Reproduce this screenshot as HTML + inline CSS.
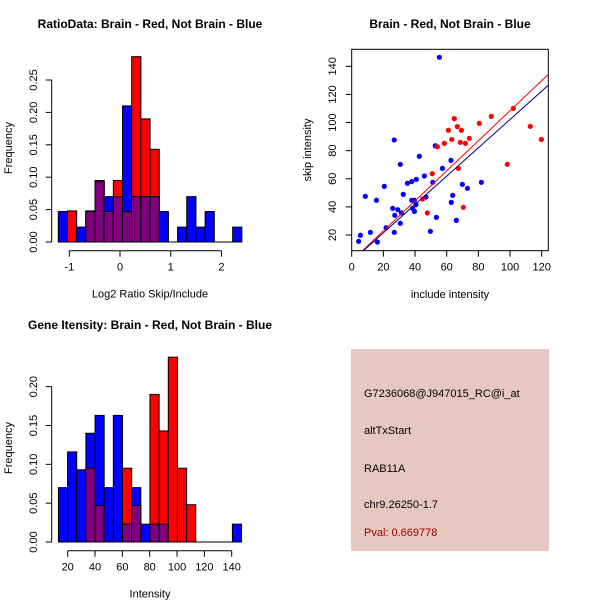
<!DOCTYPE html>
<html><head><meta charset="utf-8"><style>
body{margin:0;background:#fff}
svg{display:block;font-family:"Liberation Sans",Arial,sans-serif}
</style></head><body>
<svg id="c" width="600" height="600" viewBox="0 0 600 600">
<rect width="600" height="600" fill="#fff"/>
<text x="150" y="28" font-size="12" font-weight="bold" text-anchor="middle">RatioData: Brain - Red, Not Brain - Blue</text>
<text x="450" y="28" font-size="12" font-weight="bold" text-anchor="middle">Brain - Red, Not Brain - Blue</text>
<text x="150" y="329" font-size="12" font-weight="bold" text-anchor="middle">Gene Itensity: Brain - Red, Not Brain - Blue</text>
<g id="h1"></g>
<g id="sc"></g>
<g id="h2"></g>
<g>
<rect x="351" y="349" width="198" height="202" fill="#e6c8c1"/>
<text x="364" y="397" font-size="11">G7236068@J947015_RC@i_at</text>
<text x="364" y="434" font-size="11">altTxStart</text>
<text x="364" y="472" font-size="11">RAB11A</text>
<text x="364" y="508" font-size="11">chr9.26250-1.7</text>
<text x="364" y="536" font-size="11" fill="#a00000">Pval: 0.669778</text>
</g>
</svg>
<script>
// Ratio histogram data
const h1Start = -1.217, h1Width = 0.181;
const h1Blue = [0.047,0,0.023,0.047,0.093,0.07,0.07,0.21,0.07,0.07,0.07,0.047,0,0.023,0.07,0.023,0.047,0,0,0.023];
const h1Red  = [0,0.048,0,0.048,0.095,0.047,0.095,0.047,0.286,0.19,0.143,0,0,0,0,0,0,0,0,0];
const h1XTicks = [-1,0,1,2];
const h1YTicks = [0,0.05,0.10,0.15,0.20,0.25];
const h1YLabels = ["0.00","0.05","0.10","0.15","0.20","0.25"];
// Intensity histogram data
const h2Start = 13.2, h2Width = 6.7;
const h2Blue = [0.07,0.116,0.093,0.14,0.163,0.07,0.163,0.023,0.07,0.023,0.023,0.023,0,0,0,0,0,0,0,0.023];
const h2Red  = [0,0,0,0.095,0.047,0,0,0.095,0.047,0,0.19,0.143,0.238,0.095,0.048,0,0,0,0,0];
const h2XTicks = [20,40,60,80,100,120,140];
const h2YTicks = [0,0.05,0.10,0.15,0.20];
const h2YLabels = ["0.00","0.05","0.10","0.15","0.20"];
// Scatter data
const blueX = [4.4,5.5,8.6,11.8,15.6,16.2,20.6,21.7,25.9,26.9,26.9,27.2,29.1,30.7,30.7,31.4,32.6,35.2,37.9,37.9,38.5,39.6,39.6,40.6,40.8,42.7,45.9,46.9,51.2,49.7,52.8,53.5,55.4,57.3,62.7,62.9,63.8,66.1,69.9,73.1,81.9];
const blueY = [15.5,19.8,47.5,21.9,44.7,15,54.6,25.2,39,87.6,21.9,34,38,70.3,28.3,35.7,48.9,56.8,58,44.7,39,44.7,36.8,41.6,59.6,76,62,47,57.5,22.6,83.5,32.6,146.4,67.4,73.1,43.2,48.2,30.4,56,53.2,57.5];
const redX = [44.8,47.8,50.9,54.1,58.5,61.1,63.2,64.8,66.7,67.4,68.6,69.3,70.5,71.8,74.3,80.6,88.2,98.3,102.1,112.8,119.8];
const redY = [45.6,35.7,63.6,82.8,85.2,94.5,88,102.8,97.1,67.4,85.9,94.5,39.7,85.2,88.8,99.4,104.4,70.3,110.1,97.3,88];
const redFit = [1.5,1.069];
const blueFit = [1.4,1.008];
const scXTicks = [0,20,40,60,80,100,120];
const scYTicks = [20,40,60,80,100,120,140];

const NS="http://www.w3.org/2000/svg";
function mk(p,tag,attrs,txt){const e=document.createElementNS(NS,tag);for(const k in attrs)e.setAttribute(k,attrs[k]);if(txt!==undefined)e.textContent=txt;p.appendChild(e);return e;}

function hist(g,start,w,blue,red,sx,sy,xt,yt,yl,xlabel,axY,xmin,xmax,ytY){
  for(let i=0;i<blue.length;i++){
    const x0=sx(start+i*w),x1=sx(start+(i+1)*w);
    const b=blue[i],r=red[i],m=Math.min(b,r);
    if(b>0){const e=mk(g,'rect',{x:x0,y:sy(b),width:x1-x0,height:sy(0)-sy(b),fill:'#0000ff',stroke:'#000','stroke-width':1});
      
      }
    if(r>0){const e=mk(g,'rect',{x:x0,y:sy(r),width:x1-x0,height:sy(0)-sy(r),fill:'#ff0000',stroke:'#000','stroke-width':1});
      
      }
    if(m>0){const e=mk(g,'rect',{x:x0,y:sy(m),width:x1-x0,height:sy(0)-sy(m),fill:'#800080',stroke:'#000','stroke-width':1});
      
      }
  }
  mk(g,'line',{x1:sx(xmin),x2:sx(xmax),y1:sy(0),y2:sy(0),stroke:'#000'});
  const xa=mk(g,'g',{});
  
  
  mk(xa,'line',{x1:sx(xt[0]),x2:sx(xt[xt.length-1]),y1:axY,y2:axY,stroke:'#000'});
  xt.forEach(v=>{mk(xa,'line',{x1:sx(v),x2:sx(v),y1:axY,y2:axY+6,stroke:'#000'});
    const t=mk(xa,'text',{x:sx(v),y:axY+20,'font-size':11,'text-anchor':'middle'},String(v));
    
    });
  const xl=mk(g,'text',{x:150,y:axY+47,'font-size':11,'text-anchor':'middle'},xlabel);
  
  
  const ya=mk(g,'g',{});
  
  
  mk(ya,'line',{x1:51.7,x2:51.7,y1:sy(yt[0]),y2:sy(yt[yt.length-1]),stroke:'#000'});
  yt.forEach((v,i)=>{mk(ya,'line',{x1:45.7,x2:51.7,y1:sy(v),y2:sy(v),stroke:'#000'});
    const t=mk(ya,'text',{x:0,y:0,'font-size':11,'text-anchor':'middle',transform:`translate(37,${sy(v)}) rotate(-90)`},yl[i]);
    
    });
  const yt2=mk(g,'text',{x:0,y:0,'font-size':11,'text-anchor':'middle',transform:`translate(12,${ytY}) rotate(-90)`},'Frequency');
  
  
}

hist(document.getElementById('h1'),h1Start,h1Width,h1Blue,h1Red,
  v=>120+v*50.7, v=>242-v*648, h1XTicks,h1YTicks,h1YLabels,'Log2 Ratio Skip/Include',250.7,-1.217,2.4,148);
hist(document.getElementById('h2'),h2Start,h2Width,h2Blue,h2Red,
  v=>67.7+(v-20)*1.3667, v=>542-v*776.7, h2XTicks,h2YTicks,h2YLabels,'Intensity',550.7,13.2,147.3,448);

(function(){
  const g=document.getElementById('sc');
  const sx=v=>351.7+v*1.5833, sy=v=>235-(v-20)*1.4056;
  const L=351.7,R=548.3,T=49.3,B=250.7;
  const fr=mk(g,'rect',{x:L,y:T,width:R-L,height:B-T,fill:'none',stroke:'#000'});
  
  
  mk(g,'clipPath',{id:'clp'}).appendChild(document.createElementNS(NS,'rect'));
  const cr=g.querySelector('#clp rect');cr.setAttribute('x',L);cr.setAttribute('y',T);cr.setAttribute('width',R-L);cr.setAttribute('height',B-T);
  const pts=mk(g,'g',{'clip-path':'url(#clp)'});
  blueX.forEach((x,i)=>{const c=mk(pts,'circle',{cx:sx(x),cy:sy(blueY[i]),r:2.6,fill:'#0000ff'});
    
    });
  redX.forEach((x,i)=>{const c=mk(pts,'circle',{cx:sx(x),cy:sy(redY[i]),r:2.6,fill:'#ff0000'});
    
    });
  const rl=mk(pts,'line',{x1:sx(0),y1:sy(redFit[0]),x2:sx(130),y2:sy(redFit[0]+130*redFit[1]),stroke:'#ff0000'});
  
  
  const bl=mk(pts,'line',{x1:sx(0),y1:sy(blueFit[0]),x2:sx(130),y2:sy(blueFit[0]+130*blueFit[1]),stroke:'#00008b'});
  
  
  scXTicks.forEach(v=>{mk(g,'line',{x1:sx(v),x2:sx(v),y1:B,y2:B+6,stroke:'#000'});
    const t=mk(g,'text',{x:sx(v),y:B+20,'font-size':11,'text-anchor':'middle'},String(v));
    
    });
  scYTicks.forEach(v=>{mk(g,'line',{x1:L-6,x2:L,y1:sy(v),y2:sy(v),stroke:'#000'});
    const t=mk(g,'text',{x:0,y:0,'font-size':11,'text-anchor':'middle',transform:`translate(336,${sy(v)}) rotate(-90)`},String(v));
    
    });
  const xt=mk(g,'text',{x:450,y:298,'font-size':11,'text-anchor':'middle'},'include intensity');
  
  
  const yt=mk(g,'text',{x:0,y:0,'font-size':11,'text-anchor':'middle',transform:'translate(311,150) rotate(-90)'},'skip intensity');
  
  
})();
</script>
</body></html>
